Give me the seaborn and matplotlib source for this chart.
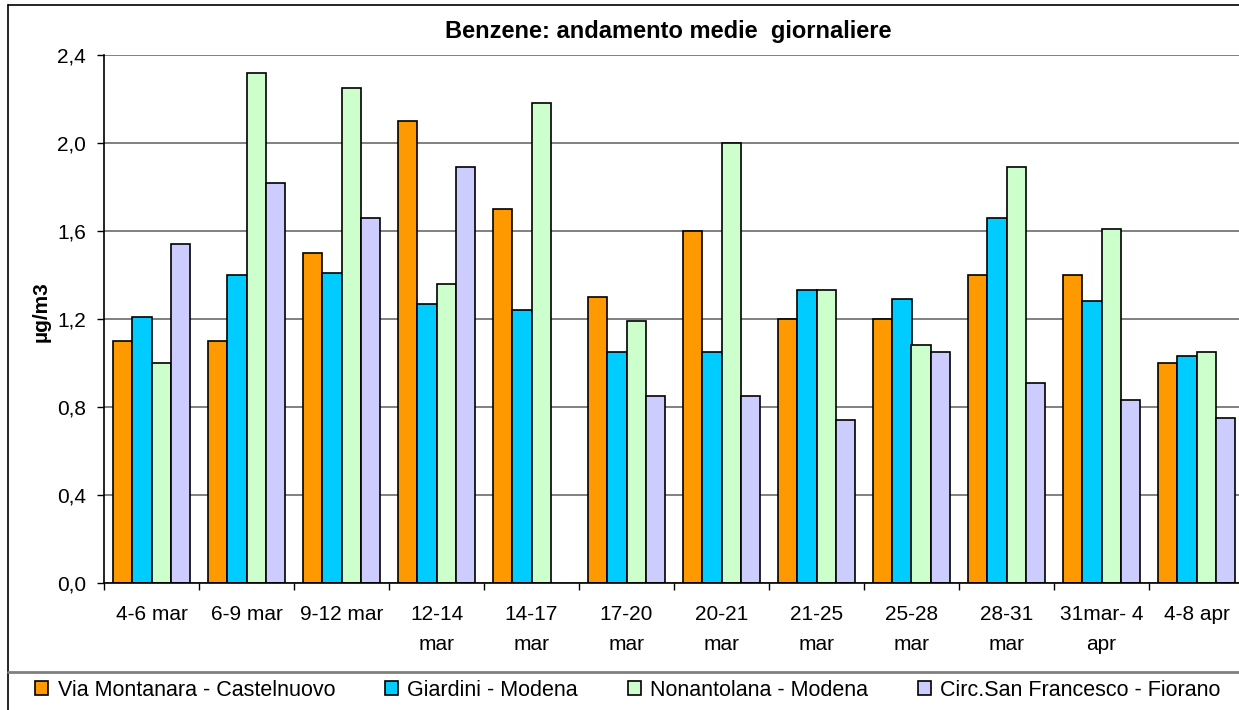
import matplotlib
matplotlib.use('Agg')
import matplotlib.pyplot as plt
import seaborn as sns
import pandas as pd
import numpy as np
from matplotlib.patches import Patch
from matplotlib.lines import Line2D
from matplotlib.ticker import FuncFormatter, FixedLocator

categories = ["4-6 mar", "6-9 mar", "9-12 mar", "12-14\nmar", "14-17\nmar", "17-20\nmar",
              "20-21\nmar", "21-25\nmar", "25-28\nmar", "28-31\nmar", "31mar- 4\napr", "4-8 apr"]
series_names = ["Via Montanara - Castelnuovo", "Giardini - Modena",
                "Nonantolana - Modena", "Circ.San Francesco - Fiorano"]
montanara = [1.10, 1.10, 1.50, 2.10, 1.70, 1.30, 1.60, 1.20, 1.20, 1.40, 1.40, 1.00]
giardini = [1.21, 1.40, 1.41, 1.27, 1.24, 1.05, 1.05, 1.33, 1.29, 1.66, 1.28, 1.03]
nonantolana = [1.00, 2.32, 2.25, 1.36, 2.18, 1.19, 2.00, 1.33, 1.08, 1.89, 1.61, 1.05]
fiorano = [1.54, 1.82, 1.66, 1.89, np.nan, 0.85, 0.85, 0.74, 1.05, 0.91, 0.83, 0.75]
colors = ["#FF9900", "#00CCFF", "#CCFFCC", "#CCCCFF"]
title = "Benzene: andamento medie  giornaliere"
ylabel = "µg/m3"
yticks = [0.0, 0.4, 0.8, 1.2, 1.6, 2.0, 2.4]

rows = []
for name, vals in zip(series_names, [montanara, giardini, nonantolana, fiorano]):
    for c, v in zip(categories, vals):
        rows.append({"cat": c, "series": name, "val": v})
df = pd.DataFrame(rows)

sns.set_theme(style="white")
plt.rcParams['font.family'] = ['Liberation Sans', 'DejaVu Sans']
plt.rcParams['text.color'] = 'black'
plt.rcParams['axes.labelcolor'] = 'black'
plt.rcParams['xtick.color'] = 'black'
plt.rcParams['ytick.color'] = 'black'

W, H = 1239, 710
fig = plt.figure(figsize=(W / 100, H / 100), dpi=100)
fig.patch.set_facecolor('white')

L, R, T, B = 104, 1244, 55, 583
ax = fig.add_axes([L / W, 1 - B / H, (R - L) / W, (B - T) / H])

sns.barplot(data=df, x="cat", y="val", hue="series", order=categories, hue_order=series_names,
            palette=colors, saturation=1, width=0.82, edgecolor="black", linewidth=1.2,
            errorbar=None, legend=False, ax=ax)

ax.set_xlim(-0.5, len(categories) - 0.5)
ax.set_ylim(0, 2.4)
ax.set_yticks(yticks)
ax.yaxis.set_major_formatter(FuncFormatter(lambda v, p: f"{v:.1f}".replace('.', ',')))
ax.yaxis.grid(True, color="#808080", linewidth=1.4)
ax.xaxis.grid(False)
ax.set_axisbelow(True)
ax.set_xlabel("")
ax.set_ylabel("")

ax.tick_params(axis='y', which='major', direction='out', length=5, width=1, color='black',
               labelsize=15, pad=8, left=True, labelcolor='black')
ax.tick_params(axis='x', which='major', length=0, labelsize=15, pad=16, labelcolor='black')
ax.xaxis.set_minor_locator(FixedLocator(np.arange(-0.5, len(categories), 1.0)))
ax.tick_params(axis='x', which='minor', direction='out', length=5, width=1, color='black', bottom=True)
for lab in ax.get_xticklabels():
    lab.set_linespacing(1.75)

for s in ['top', 'right']:
    ax.spines[s].set_visible(False)
for s in ['left', 'bottom']:
    ax.spines[s].set_color('black')
    ax.spines[s].set_linewidth(1.2)

# chart frame and legend separator
def fy(py):
    return 1 - py / H

fig.add_artist(Line2D([8 / W, 1], [fy(5), fy(5)], color='black', lw=1.2))
fig.add_artist(Line2D([8 / W, 8 / W], [0, fy(5)], color='black', lw=1.2))
fig.add_artist(Line2D([8 / W, 1], [fy(672), fy(672)], color='#808080', lw=2))

fig.text(668 / W, fy(38), title, ha='center', va='baseline', fontsize=17, fontweight='bold',
         color='black')
fig.text(41 / W, fy(312), ylabel, ha='center', va='center', rotation=90, fontsize=15,
         fontweight='bold', color='black')

handles = [Patch(facecolor=c, edgecolor='black', linewidth=1.2) for c in colors]
leg = fig.legend(handles, series_names, loc='center', bbox_to_anchor=(628 / W, fy(690)), ncol=4,
                 frameon=False, fontsize=15.5, handlelength=0.6, handleheight=0.6,
                 handletextpad=0.45, columnspacing=2.3, borderaxespad=0, borderpad=0)
for t in leg.get_texts():
    t.set_color('black')

fig.savefig("out.png", dpi=100, facecolor='white')
